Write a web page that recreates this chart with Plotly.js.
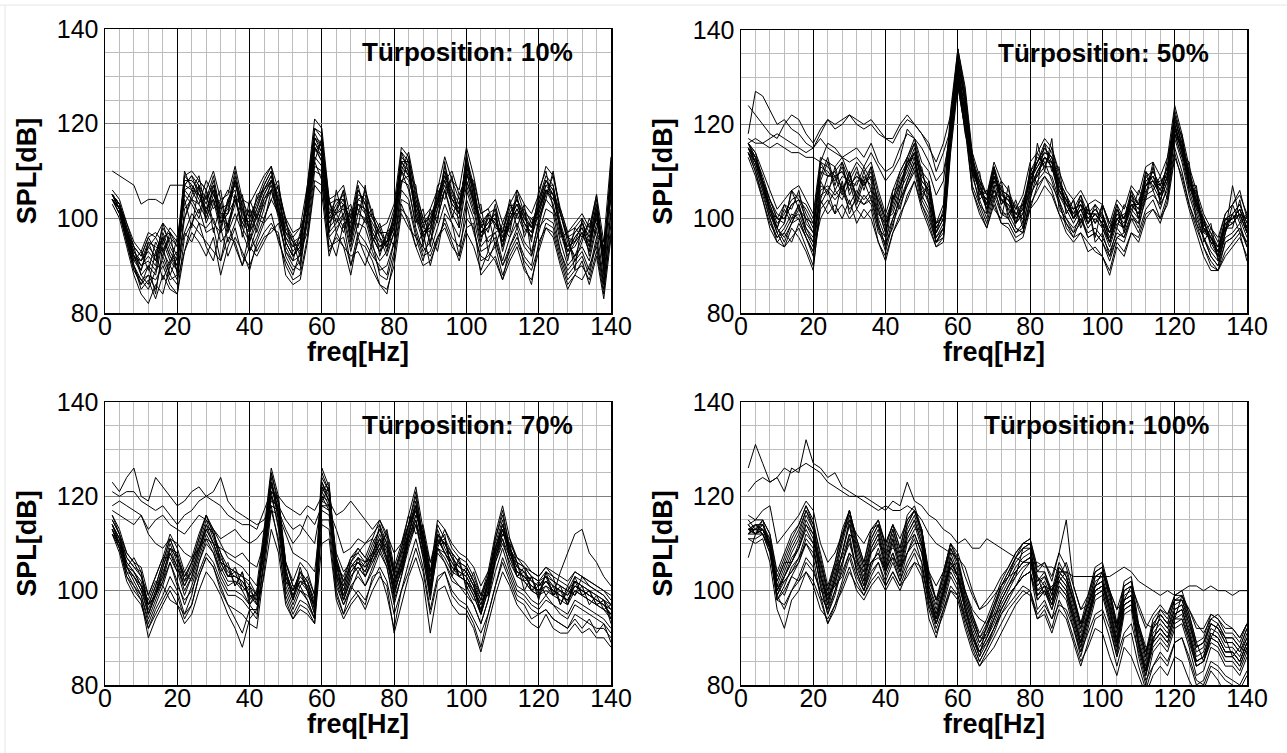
<!DOCTYPE html>
<html>
<head>
<meta charset="utf-8">
<script src="https://cdn.plot.ly/plotly-3.0.1.min.js"></script>
<style>html,body{margin:0;padding:0;background:#fff;}#chart{width:1287px;height:753px;}</style>
</head>
<body>
<div id="chart"></div>
<script>
// Frequency axis (Hz)
const freq = [2,4,6,8,10,12,14,16,18,20,22,24,26,28,30,32,34,36,38,40,42,44,46,48,50,52,54,56,58,60,62,64,66,68,70,72,74,76,78,80,82,84,86,88,90,92,94,96,98,100,102,104,106,108,110,112,114,116,118,120,122,124,126,128,130,132,134,136,138,140];

const panelTitles = ["Türposition: 10%", "Türposition: 50%", "Türposition: 70%", "Türposition: 100%"];
const xTitle = "freq[Hz]";
const yTitle = "SPL[dB]";
const xTicks = [0,20,40,60,80,100,120,140];
const yTicks = [80,100,120,140];

// SPL [dB] spectra, door position 10%
const spl10 = [
[105,103,98,93,90,92,90,97,93,90, 108,108,106,103,108,100,102,109,101,99, 103,107,110,103,96,93,95,105,118,115, 100,103,105,97,105,104,97,94,96,100, 113,111,101,96,99,104,110,105,102,112, 106,97,99,101,94,100,103,99,97,103, 108,106,98,93,96,98,94,102,90,110],
[104,102,97,91,89,94,92,98,95,92, 109,107,104,102,106,99,103,110,102,98, 102,106,109,104,97,94,96,104,119,117, 101,104,104,98,106,103,98,95,95,101, 114,112,102,97,98,103,111,106,101,113, 107,98,100,100,95,101,104,100,98,104, 109,107,99,94,97,99,95,103,91,111],
[105,102,96,92,88,90,88,95,91,89, 107,109,107,104,109,101,101,108,100,100, 104,108,111,102,95,92,94,106,116,114, 99,102,106,96,104,105,96,93,97,99, 112,110,100,95,100,105,109,104,103,111, 105,96,98,102,93,99,102,98,96,102, 107,105,97,92,95,97,93,101,89,109],
[104,101,95,89,86,88,85,92,88,86, 102,104,103,100,104,97,99,104,98,95, 99,103,106,100,93,91,92,100,113,111, 97,99,101,94,101,100,94,91,93,97, 108,107,98,93,95,100,106,101,98,107, 102,94,96,97,91,96,99,95,93,99, 104,102,95,90,92,94,91,98,87,105],
[105,103,97,92,91,95,94,93,96,94, 100,105,108,106,102,104,98,103,105,97, 101,100,104,107,99,95,93,101,114,116, 103,101,98,101,102,99,101,96,92,97, 108,109,104,99,101,100,106,108,104,108, 103,99,95,97,98,96,101,102,99,100, 105,109,101,95,92,96,99,97,94,106],
[104,102,96,90,87,85,89,91,87,88, 97,101,99,98,100,95,97,101,97,93, 96,100,104,101,92,89,91,99,111,110, 96,98,100,93,99,98,93,89,90,95, 106,104,97,92,93,98,103,99,96,104, 100,93,94,96,90,94,98,94,92,97, 102,101,93,89,91,93,89,96,86,102],
[105,103,98,94,92,96,97,95,98,96, 103,106,103,108,105,103,106,104,99,102, 100,105,108,106,100,97,98,102,115,113, 104,99,103,100,101,106,100,97,95,98, 110,114,106,100,97,102,108,110,105,109, 108,101,102,98,97,103,100,101,100,101, 106,104,102,97,98,100,97,104,93,108],
[103,100,94,88,84,82,86,84,90,87, 93,97,95,92,96,88,94,98,92,90, 94,97,99,96,90,87,88,96,108,107, 94,95,96,90,95,94,91,86,84,92, 102,100,94,90,91,95,100,96,94,100, 98,91,92,94,88,92,95,91,89,94, 99,98,92,87,89,90,87,93,84,99],
[106,104,99,95,93,97,96,99,97,95, 109,110,108,106,110,104,105,111,104,103, 106,109,111,106,99,96,98,107,121,119, 104,105,107,100,108,106,101,98,99,103, 115,113,105,100,102,106,113,108,106,115, 109,101,102,104,99,103,106,103,101,105, 111,109,102,97,99,101,98,105,95,113],
[110,109,108,107,103,104,104,103,107,107, 107,106,105,102,104,99,101,104,99,97, 100,104,107,101,95,92,94,103,115,112, 99,101,103,95,103,102,96,93,95,98, 110,108,103,99,100,103,107,103,101,108, 104,99,101,99,96,101,104,100,98,102, 106,104,101,96,95,97,95,100,92,107],
[104,101,95,90,85,87,83,88,85,84, 96,99,97,95,93,91,96,95,90,94, 92,95,98,97,88,86,87,95,107,105, 92,97,94,88,96,92,89,86,85,90, 101,98,96,94,92,96,98,94,92,98, 99,88,90,92,87,94,97,90,86,95, 98,96,90,85,88,91,86,92,83,96],
[105,103,97,93,91,93,91,96,92,90, 106,107,105,101,107,99,101,108,100,98, 102,107,110,102,95,92,95,104,117,116, 101,102,104,97,104,103,97,94,95,100, 112,112,101,97,99,104,110,104,102,112, 106,97,99,101,94,100,103,99,97,103, 108,105,98,93,96,98,94,102,90,110],
[105,102,96,91,93,89,95,92,97,88, 100,104,101,106,97,103,95,99,104,93, 98,104,106,108,94,91,97,103,112,117, 104,97,101,103,96,100,102,92,97,94, 107,113,104,99,95,102,106,100,105,106, 101,103,93,99,97,104,98,103,92,100, 104,110,101,96,91,95,100,96,95,104],
[104,103,97,94,88,86,93,87,91,93, 104,98,107,99,103,106,97,105,98,102, 97,102,108,104,98,95,90,102,116,113, 98,100,97,102,98,107,95,98,93,101, 110,106,99,102,94,106,104,109,98,110, 103,95,101,94,99,97,105,96,100,98, 106,103,96,97,89,100,92,99,93,107],
[105,102,97,92,91,94,96,93,90,96, 105,103,100,105,99,97,104,106,96,104, 100,99,106,101,100,92,94,107,119,118, 97,106,100,99,107,101,95,99,94,99, 111,109,107,94,102,99,112,102,100,114, 104,100,97,103,96,98,106,101,95,106, 110,102,99,91,98,96,97,105,88,112],
[104,101,96,90,86,90,84,94,88,92, 97,95,99,94,91,98,92,96,93,89, 95,99,101,95,91,88,93,97,110,109, 96,92,99,90,97,95,92,90,88,95, 104,103,96,91,97,93,101,99,92,103, 97,92,91,95,90,93,96,92,90,98, 100,99,93,88,90,92,88,95,86,101],
[105,103,98,92,89,95,91,99,94,91, 110,106,109,101,106,98,104,107,103,97, 105,106,108,105,97,96,92,106,117,114, 102,101,106,95,103,102,99,96,94,98, 114,110,102,98,97,107,108,103,101,109, 107,96,100,99,95,101,101,97,99,102, 107,107,97,94,95,99,96,100,92,108],
[104,102,95,89,87,88,87,90,86,84, 93,99,102,97,98,91,99,94,90,97, 93,96,97,99,93,90,89,100,112,108, 93,96,94,92,93,90,95,88,87,93, 103,99,94,97,90,96,99,95,91,97, 94,89,93,91,87,91,94,89,87,93, 98,97,91,86,88,87,90,94,85,97],
[105,103,99,94,92,96,93,96,97,94, 107,109,105,104,107,102,103,108,104,100, 104,106,109,102,97,95,96,104,115,112, 103,104,103,99,106,103,100,97,97,102, 112,109,103,98,101,103,109,106,103,111, 107,98,101,102,97,102,104,101,98,104, 108,106,101,96,97,99,96,103,93,109],
[105,102,97,92,90,91,89,96,92,89, 106,104,107,100,105,101,98,105,102,95, 101,105,108,101,96,94,95,104,117,115, 100,101,102,97,103,101,96,93,95,99, 110,110,100,97,98,104,108,104,101,110, 104,97,98,100,95,99,102,99,96,101, 106,105,98,93,94,97,93,101,90,108]
];

// door position 50%
const spl50 = [
[115,112,108,103,99,101,104,105,101,98, 111,110,108,111,106,110,107,110,103,98, 103,108,111,115,108,106,96,99,120,135, 126,112,107,103,110,105,104,100,102,109, 111,114,113,107,104,101,104,100,102,100, 96,101,99,104,102,108,109,106,110,121, 116,109,104,99,96,93,99,100,102,98],
[116,113,109,104,100,100,103,104,100,97, 112,111,109,110,107,109,108,111,102,97, 104,109,112,116,107,105,97,100,122,134, 124,111,106,104,111,104,103,101,101,110, 112,115,112,106,103,102,103,101,101,99, 97,100,100,103,103,107,110,107,111,122, 115,108,103,98,95,94,98,101,103,99],
[114,110,105,100,96,97,100,101,97,94, 106,107,105,107,103,106,104,106,99,94, 100,104,108,112,105,102,95,97,117,132, 122,109,104,100,106,102,100,97,99,105, 108,110,109,104,100,98,100,97,98,96, 93,97,96,100,99,104,105,103,106,117, 112,105,100,96,92,90,95,96,98,95],
[115,111,106,102,98,103,100,103,98,96, 104,109,110,106,109,105,110,106,104,100, 101,106,113,110,111,103,99,101,118,130, 121,113,105,106,104,108,101,103,98,106, 114,111,115,109,101,104,99,103,96,103, 99,98,103,101,106,104,111,104,108,119, 118,106,106,97,99,91,97,103,99,101],
[113,109,104,98,95,94,96,98,94,90, 102,104,101,103,100,102,100,102,95,92, 97,101,104,108,103,99,94,95,114,128, 119,106,101,98,103,99,98,95,96,102, 104,107,105,101,97,95,97,93,94,92, 89,95,93,97,96,101,102,100,103,113, 109,103,98,94,90,89,92,94,96,92],
[116,114,110,106,102,104,106,107,104,101, 113,112,111,113,109,112,110,112,106,101, 106,110,113,117,110,108,99,103,123,136, 128,114,109,105,112,108,106,102,105,112, 114,117,115,110,106,104,106,103,104,103, 99,104,102,107,105,111,112,109,113,124, 118,111,106,101,98,96,101,103,105,101],
[114,112,107,101,97,99,106,102,100,99, 108,112,106,109,108,107,111,108,100,96, 106,107,110,114,105,107,98,101,119,133, 125,110,108,102,108,106,102,99,104,107, 109,113,111,108,105,100,102,102,99,101, 95,102,98,105,100,109,107,108,109,120, 114,110,102,100,94,92,100,99,101,97],
[115,113,108,102,98,96,99,100,96,93, 105,106,104,106,102,104,103,105,98,93, 99,103,107,111,104,101,95,98,116,131, 123,110,103,101,107,101,101,98,97,104, 110,112,108,103,99,97,101,96,97,95, 92,96,97,101,98,105,106,102,107,118, 113,106,101,96,93,91,96,97,99,94],
[118,127,126,123,120,121,119,118,116,115, 117,115,114,113,112,113,111,114,111,108, 110,113,119,117,112,110,105,108,120,131, 120,110,106,104,108,103,105,99,101,106, 110,113,111,105,103,100,102,99,101,99, 95,100,98,103,101,107,108,105,109,119, 114,107,103,98,95,92,98,99,101,97],
[124,122,120,118,117,120,122,121,118,116, 119,121,119,120,122,120,119,120,118,117, 116,119,121,120,118,115,112,116,122,130, 118,112,108,105,111,106,105,101,103,108, 112,115,113,108,105,102,105,101,103,101, 97,102,100,105,103,109,110,107,111,120, 115,110,105,100,97,94,100,101,103,99],
[117,116,116,117,118,117,116,115,114,115, 118,121,120,121,122,121,120,121,119,117, 117,120,122,120,118,116,110,114,119,128, 119,111,107,103,109,104,104,100,102,108, 111,113,112,106,104,100,103,99,101,99, 95,100,98,103,101,107,108,105,109,118, 115,108,104,98,96,93,99,100,102,98],
[116,117,116,115,116,115,114,114,113,113, 112,116,115,113,114,115,113,116,112,110, 111,115,118,117,115,112,108,110,118,129, 120,111,106,102,109,104,103,99,101,107, 110,113,112,106,103,100,103,99,101,99, 95,100,98,103,101,107,108,105,109,119, 115,108,103,99,96,93,98,99,101,97],
[114,111,106,100,95,97,95,99,96,93, 100,103,106,104,108,102,105,103,97,95, 98,106,109,113,106,104,95,98,118,133, 122,114,104,106,102,100,107,98,97,104, 116,110,117,102,100,97,99,103,95,97, 92,98,96,101,99,110,106,109,104,118, 113,112,99,96,92,90,97,101,97,95],
[116,113,107,101,98,95,99,102,98,95, 108,105,111,106,110,104,109,107,99,94, 105,104,112,113,104,108,98,101,117,129, 124,109,110,101,107,107,100,104,99,111, 107,116,110,111,101,104,98,102,99,103, 98,103,97,106,100,105,112,103,113,120, 114,107,107,95,98,95,101,103,106,100],
[115,112,107,102,97,94,98,96,93,89, 104,101,103,100,104,99,102,100,95,91, 97,100,105,108,102,98,94,96,116,131, 121,106,102,98,104,99,99,96,97,103, 106,109,106,101,99,96,97,95,93,92, 88,94,92,97,95,100,102,99,104,114, 108,102,97,92,89,89,93,95,97,91],
[115,113,108,104,100,99,106,104,103,100, 112,109,110,112,108,111,106,111,105,100, 104,110,113,116,109,107,97,102,121,136, 127,113,108,105,109,106,105,102,103,108, 112,116,114,108,103,102,103,101,101,101, 97,103,100,106,103,110,108,107,111,123, 117,110,103,100,95,94,98,98,104,97],
[116,114,108,102,100,103,102,106,99,97, 109,113,107,112,105,108,108,109,101,99, 102,107,112,114,110,105,99,100,119,134, 125,111,106,104,111,103,105,99,103,110, 113,112,112,106,105,100,105,99,103,98, 95,100,101,102,104,107,109,105,109,122, 117,108,105,98,97,92,100,100,101,100],
[114,110,104,99,96,98,101,100,96,92, 103,106,101,108,101,105,103,104,98,96, 100,104,107,110,103,100,95,96,115,129, 120,107,103,99,105,101,100,97,98,102, 107,109,107,104,98,96,100,96,97,95, 91,96,95,100,97,102,104,100,105,115, 110,103,99,94,91,89,95,96,98,94],
[115,112,107,103,98,102,99,103,97,95, 107,106,109,105,110,103,108,104,102,97, 105,102,108,112,107,103,96,98,118,132, 123,110,106,102,106,104,102,101,100,107, 109,111,111,105,102,99,102,98,100,98, 94,99,98,102,100,106,107,104,108,119, 115,107,102,97,96,92,97,107,100,96],
[116,112,108,104,101,100,103,104,102,99, 110,109,109,110,107,109,107,109,104,99, 104,107,111,114,108,106,97,100,121,135, 126,112,107,103,110,105,104,101,102,109, 112,114,113,107,104,101,104,100,102,100, 97,101,100,104,102,108,109,106,110,121, 116,109,104,99,96,94,99,100,102,98]
];

// door position 70%
const spl70 = [
[114,111,106,104,102,96,100,105,110,106, 101,105,110,115,111,107,104,103,102,100, 98,110,124,116,103,99,103,101,96,123, 120,104,99,104,106,104,108,112,108,100, 106,113,119,110,101,113,109,106,104,103, 100,96,101,110,115,108,104,103,101,100, 102,100,99,98,101,100,99,98,97,95],
[115,112,107,105,103,97,101,106,111,107, 102,106,111,116,112,108,105,104,103,101, 99,111,125,118,104,100,104,102,97,124, 121,105,100,105,107,105,109,113,109,101, 107,114,120,111,102,112,110,107,105,104, 101,97,102,111,116,109,105,104,102,101, 103,101,100,99,102,101,100,99,98,96],
[113,109,104,101,99,93,97,101,106,102, 97,101,106,111,108,103,100,100,99,97, 95,107,121,113,100,96,100,98,94,120, 117,102,97,101,103,101,105,109,105,97, 103,110,115,107,98,109,106,103,101,100, 97,93,98,106,111,105,101,100,98,97, 99,97,96,95,98,97,96,95,94,92],
[112,110,104,103,101,98,102,101,98,97, 95,99,106,110,108,104,101,102,100,97, 99,108,120,117,106,101,100,99,97,119, 122,106,98,102,107,103,106,109,110,103, 104,111,116,112,104,110,111,104,106,101, 98,98,99,107,112,110,103,105,100,102, 99,101,97,100,99,101,97,99,96,97],
[112,108,102,99,97,92,95,98,101,99, 94,97,103,107,105,100,97,96,95,93, 92,104,117,111,98,94,97,96,93,115, 115,100,95,98,100,98,102,105,102,95, 100,106,111,105,96,103,104,100,98,97, 94,91,95,101,107,103,99,98,96,95, 96,94,93,92,95,94,93,92,92,90],
[116,113,108,106,105,99,103,107,112,109, 104,107,112,116,113,110,107,106,105,103, 101,113,126,120,106,102,106,104,99,126, 122,107,102,107,109,107,111,115,111,104, 109,116,122,113,104,115,113,109,107,106, 103,99,104,112,118,111,107,106,104,103, 105,103,102,101,104,103,102,101,100,98],
[114,111,105,107,104,95,99,103,109,108, 103,106,109,113,113,106,105,101,104,98, 100,109,122,119,105,98,105,100,95,121, 123,103,101,106,104,106,107,114,106,102, 108,112,118,109,99,111,108,108,103,105, 102,95,103,108,113,107,106,102,103,99, 104,99,101,97,103,99,100,97,98,94],
[113,110,105,103,100,95,99,104,108,104, 99,103,108,113,110,105,102,102,101,99, 97,109,123,115,102,98,102,100,95,122, 119,103,98,103,105,103,107,110,107,99, 105,112,117,109,100,111,108,105,103,102, 99,95,100,108,113,107,103,102,100,99, 101,99,98,97,100,99,98,97,96,94],
[123,121,124,126,120,119,124,122,120,118, 119,121,122,120,121,124,119,117,116,115, 114,115,118,117,113,110,112,116,114,118, 117,113,108,109,111,110,112,114,110,104, 108,114,117,111,104,110,110,107,105,104, 101,98,103,109,113,108,105,104,102,101, 102,101,100,99,101,100,99,98,97,96],
[121,120,121,121,119,118,117,118,116,114, 116,117,119,120,119,118,116,115,114,114, 113,117,121,120,118,117,116,118,117,120, 119,116,117,119,117,115,113,115,112,108, 110,114,118,112,106,112,110,108,106,105, 102,99,103,109,114,109,106,105,103,102, 103,102,101,100,102,101,100,99,98,97],
[117,116,115,114,116,113,115,116,114,113, 112,114,116,115,113,111,112,113,111,110, 111,113,119,118,115,113,114,112,110,119, 118,108,104,106,108,106,108,111,107,102, 106,111,115,109,103,109,108,105,104,103, 100,97,101,107,111,107,104,103,101,100, 101,100,99,98,100,99,98,97,96,95],
[118,119,118,117,116,112,110,109,111,110, 108,107,109,111,110,109,108,107,108,106, 105,110,117,116,112,108,107,106,104,117, 116,106,102,105,106,105,107,110,106,100, 104,110,114,108,100,109,107,104,103,102, 99,95,100,106,110,106,103,102,100,99, 100,99,104,108,112,113,108,106,103,101],
[113,109,103,100,98,92,96,99,103,100, 95,97,103,107,105,101,97,94,91,96, 94,106,118,110,99,95,98,97,94,114, 113,99,95,101,99,97,103,104,99,92, 100,104,109,104,95,102,104,99,97,96, 93,88,95,101,106,102,98,97,94,95, 96,94,93,92,94,92,94,91,93,89],
[115,112,108,106,103,99,103,107,107,104, 104,102,107,112,109,104,106,101,104,97, 100,108,121,119,106,101,101,103,99,121, 118,107,101,106,109,107,106,110,112,104, 104,111,116,113,104,110,112,103,107,100, 104,99,99,107,112,111,106,100,103,98, 104,103,97,101,99,103,101,100,99,97],
[114,110,105,102,99,94,98,102,106,101, 98,100,104,108,106,102,99,99,98,96, 96,106,120,114,101,97,101,98,94,118, 118,101,97,100,104,101,104,108,105,98, 103,109,114,107,99,108,106,102,101,99, 97,93,98,104,109,104,100,99,97,96, 98,97,95,94,97,96,95,94,93,91],
[116,112,105,103,100,97,99,102,108,105, 100,103,108,113,110,106,103,104,100,101, 97,111,123,117,104,98,104,100,97,122, 121,105,103,107,108,110,111,108,113,105, 110,116,112,114,106,109,113,110,108,107, 105,101,104,108,112,110,107,105,104,103, 105,104,103,102,104,103,102,101,100,99],
[113,110,105,104,101,95,100,103,109,107, 102,104,109,114,112,108,103,105,101,99, 99,109,123,117,102,100,102,102,97,123, 119,103,98,103,105,103,107,111,109,101, 106,112,118,111,100,112,110,107,103,104, 101,95,102,109,114,109,103,104,100,101, 103,99,100,97,102,99,100,97,98,93],
[112,109,103,101,98,90,94,97,100,97, 93,95,100,104,102,99,95,92,88,94, 96,103,113,108,97,94,96,95,93,110, 111,98,94,97,99,96,100,103,101,91, 97,103,107,102,91,100,101,97,95,95, 92,87,93,99,104,101,97,95,93,92, 95,92,91,91,93,91,92,90,90,88],
[114,111,107,105,104,97,101,106,111,107, 103,106,111,116,112,106,105,104,103,102, 99,112,125,119,104,100,104,102,98,125, 121,106,100,105,107,106,110,113,110,103, 109,114,121,111,103,114,111,108,106,105, 102,98,103,111,117,109,106,105,103,102, 104,102,101,100,103,102,101,100,99,97],
[114,110,106,104,101,97,99,105,109,105, 101,104,109,114,110,106,103,103,102,99, 98,109,123,115,103,99,102,101,96,122, 119,104,99,104,106,104,108,111,107,99, 105,112,118,109,101,112,108,106,103,102, 100,96,101,109,114,108,104,103,101,100, 102,100,99,98,101,100,99,98,97,95]
];

// door position 100%
const spl100 = [
[113,113,114,110,100,104,108,111,116,113, 104,97,103,110,116,108,103,110,113,106, 112,106,113,116,111,100,95,101,108,104, 97,92,88,91,95,99,102,105,107,108, 100,102,98,104,102,96,90,96,102,103, 97,90,99,100,90,84,91,93,91,96, 97,92,86,87,92,91,88,88,86,90],
[112,114,113,111,101,105,109,112,117,114, 105,98,104,111,117,109,104,111,114,107, 113,107,114,117,112,101,96,102,109,105, 98,93,89,92,96,100,103,106,108,109, 101,103,99,105,103,97,91,97,103,104, 98,91,100,101,91,85,92,94,92,97, 98,93,87,88,93,92,89,89,87,91],
[112,112,112,108,98,100,103,106,111,109, 101,95,100,106,111,104,100,106,108,103, 107,102,108,111,106,97,93,98,104,101, 94,89,85,88,91,95,98,101,103,104, 96,98,94,100,98,92,86,92,98,99, 93,86,95,96,86,80,87,89,87,92, 93,88,82,83,88,87,84,84,82,86],
[114,112,115,109,102,106,106,109,113,110, 106,100,105,107,112,110,105,108,110,108, 109,108,110,113,113,103,98,99,105,106, 100,95,90,90,93,97,100,103,109,110, 103,99,101,102,104,99,93,94,100,101, 100,93,97,98,93,88,89,95,93,94, 99,95,89,85,90,93,90,86,88,87],
[111,110,111,106,96,92,98,100,104,102, 98,93,96,101,105,100,98,101,103,100, 103,100,104,106,103,96,91,95,100,98, 92,87,84,86,88,91,94,97,99,100, 94,95,91,96,94,89,84,89,94,95, 90,84,90,91,84,79,84,86,84,89, 90,85,80,81,85,84,82,81,80,83],
[114,115,115,112,103,107,111,114,118,115, 107,100,106,113,117,111,106,113,115,109, 114,109,115,117,113,103,98,104,110,107, 100,95,91,94,98,102,105,108,110,111, 104,106,102,108,105,99,93,99,105,106, 100,93,102,103,93,87,94,96,94,99, 100,95,89,90,95,94,91,91,89,93],
[113,112,113,109,99,103,106,109,114,111, 103,99,101,108,114,106,101,108,111,104, 110,104,111,114,109,99,94,99,106,103, 96,90,86,89,92,96,99,101,103,104, 98,100,96,101,99,93,87,93,99,100, 94,87,96,97,88,82,88,90,88,93, 94,89,84,85,89,88,85,85,83,87],
[113,114,113,110,101,102,104,107,110,108, 102,96,102,106,110,105,101,106,108,104, 108,104,108,112,108,99,94,100,106,103, 97,91,87,90,94,98,101,103,105,106, 99,101,97,102,100,95,89,95,100,101, 96,89,97,98,89,83,90,92,90,95, 96,91,85,86,91,90,87,87,85,89],
[126,131,127,123,124,121,126,125,132,127, 126,124,125,122,121,120,120,119,118,117, 119,118,123,119,118,116,115,113,112,110, 111,109,109,111,110,109,108,107,106,106, 106,105,105,104,104,103,103,103,103,103, 103,104,105,104,102,101,100,99,100,99, 100,101,101,100,101,100,100,99,100,100],
[121,123,124,123,124,126,125,126,127,126, 125,123,122,121,120,120,119,118,117,118, 117,117,118,117,115,112,110,109,108,107, 105,100,96,97,99,101,103,104,106,107, 102,103,100,104,102,98,93,97,101,102, 97,92,98,99,92,87,92,94,92,96, 97,93,88,89,93,92,89,89,87,90],
[116,115,117,118,110,112,114,116,119,117, 110,106,108,112,115,112,110,113,114,110, 114,111,115,117,113,104,101,104,110,108, 103,99,96,98,100,103,105,108,110,111, 105,106,103,108,115,101,96,99,104,105, 100,96,101,102,96,92,95,97,95,99, 99,96,92,92,95,94,92,92,90,93],
[107,112,113,109,98,97,100,103,107,105, 99,93,97,102,107,102,99,103,106,101, 104,101,105,108,104,94,90,96,101,99, 93,88,84,87,90,93,96,98,100,99, 94,96,92,98,95,90,85,88,92,91, 86,82,88,86,82,78,82,84,82,86, 85,81,78,79,83,81,78,79,77,80],
[112,114,112,109,98,101,105,107,112,110, 101,95,99,105,112,104,100,105,109,104, 108,103,110,112,108,99,93,99,105,102, 96,91,86,93,97,101,104,107,110,110, 98,100,97,102,100,94,88,94,100,101, 95,88,97,98,88,82,89,91,89,94, 95,90,84,85,90,89,86,86,84,88],
[113,113,113,110,101,99,103,102,106,104, 100,99,101,103,108,106,104,106,107,105, 107,105,108,110,110,104,98,101,105,103, 100,96,94,93,95,96,99,101,104,106, 103,101,100,103,106,101,96,97,101,104, 100,96,98,101,97,93,92,96,95,98, 98,96,93,91,94,95,93,92,90,93],
[114,112,114,111,102,106,110,113,117,113, 106,99,105,111,117,110,105,111,114,108, 113,108,114,117,112,101,97,103,110,106, 99,94,90,92,97,101,104,107,109,109, 102,104,99,105,103,98,92,98,104,105, 99,92,101,102,92,86,93,95,93,98, 99,94,88,89,94,93,90,90,88,92],
[111,111,112,108,99,96,100,102,104,101, 96,94,97,100,104,101,99,102,104,101, 104,101,103,106,105,97,92,96,100,99, 94,90,87,89,92,95,97,99,101,100, 95,97,94,97,96,92,87,91,95,96, 92,86,91,93,87,81,84,87,85,89, 90,86,81,80,84,83,81,80,79,82],
[113,114,114,110,100,103,107,109,114,112, 103,98,102,108,115,107,102,109,112,105, 111,105,112,115,110,100,95,100,107,103, 98,93,89,91,94,98,101,104,106,107, 100,101,98,103,101,95,89,95,101,102, 96,89,98,99,89,83,90,92,90,95, 96,91,85,86,91,90,87,87,85,89],
[112,113,112,109,99,102,104,106,110,107, 99,96,100,104,108,103,100,104,106,102, 106,102,106,109,106,98,93,97,103,100, 95,89,85,88,92,96,99,101,103,104, 99,100,96,101,99,94,88,94,99,100, 94,88,96,97,89,83,89,91,89,94, 94,90,84,85,90,89,86,86,84,88],
[115,113,115,112,104,108,112,114,118,114, 108,101,106,112,117,111,106,112,115,110, 114,109,116,118,113,102,98,103,109,106, 99,94,90,93,96,101,103,107,109,110, 104,104,100,106,103,98,92,97,103,104, 99,92,100,101,92,86,93,95,93,98, 98,94,88,89,93,92,90,90,88,92],
[113,112,113,110,100,103,106,110,115,112, 103,97,103,108,114,107,102,109,112,105, 111,105,112,115,110,99,94,100,107,103, 96,91,87,90,94,98,101,104,106,107, 99,101,97,103,101,95,89,95,101,102, 96,89,98,99,89,83,90,92,90,95, 96,91,85,86,91,90,87,87,85,89]
];

const panels = [spl10, spl50, spl70, spl100];

const W = 1287, H = 753;
// plot-area boxes in pixels [left, right, top, bottom]
const boxes = [[105,611,29,313],[741,1247,30,313],[105,611,402,685],[741,1247,402,685]];

const FONT = "Liberation Sans, Arial, Helvetica, sans-serif";
const traces = [];
const layout = {
  width: W, height: H,
  margin: {l:0, r:0, t:0, b:0},
  paper_bgcolor: "#fff", plot_bgcolor: "#fff",
  showlegend: false,
  font: {family: FONT, color: "#000"},
  annotations: [],
  shapes: [
    {type:"line", xref:"paper", yref:"paper", x0:0, x1:1, y0:1-5/H, y1:1-5/H, line:{color:"#e6e6e6", width:1}},
    {type:"line", xref:"paper", yref:"paper", x0:5/W, x1:5/W, y0:0, y1:1-5/H, line:{color:"#e6e6e6", width:1}}
  ]
};

panels.forEach((lines, i) => {
  const n = i + 1;
  const sfx = (n === 1 ? "" : String(n));
  const xa = "x" + sfx, ya = "y" + sfx;
  lines.forEach(arr => {
    traces.push({x: freq, y: arr, type: "scatter", mode: "lines", xaxis: xa, yaxis: ya,
      line: {color: "#000", width: 1}, hoverinfo: "skip", showlegend: false});
  });
  const b = boxes[i];
  layout["xaxis" + sfx] = {
    domain: [b[0]/W, b[1]/W], anchor: ya, range: [0, 140],
    tickmode: "array", tickvals: xTicks, ticktext: xTicks.map(String),
    showgrid: true, gridcolor: "#000", gridwidth: 1,
    minor: {dtick: 4, tick0: 0, showgrid: true, gridcolor: "#bdbdbd", gridwidth: 1, ticks: ""},
    showline: true, mirror: true, linecolor: "#000", linewidth: 1.5,
    ticks: "", zeroline: false, ticklabelstandoff: -10,
    tickfont: {size: 25, family: FONT, color: "#000"}
  };
  layout["yaxis" + sfx] = {
    domain: [1 - b[3]/H, 1 - b[2]/H], anchor: xa, range: [80, 140],
    tickmode: "array", tickvals: yTicks, ticktext: yTicks.map(String),
    showgrid: true, gridcolor: "#7f7f7f", gridwidth: 1.5,
    minor: {dtick: 5, tick0: 80, showgrid: true, gridcolor: "#bdbdbd", gridwidth: 1, ticks: ""},
    showline: true, mirror: true, linecolor: "#000", linewidth: 1.5,
    ticks: "", zeroline: false,
    tickfont: {size: 25, family: FONT, color: "#000"},
    title: {text: yTitle, standoff: 12, font: {size: 27, family: FONT, color: "#000", weight: "bold"}}
  };
  layout.annotations.push({
    text: panelTitles[i], xref: xa + " domain", yref: ya + " domain", x: 1, y: 1,
    xanchor: "right", yanchor: "middle", xshift: -36, yshift: -23, showarrow: false,
    font: {size: 26, family: FONT, color: "#000", weight: "bold"}
  });
  layout.annotations.push({
    text: xTitle, xref: xa + " domain", yref: ya + " domain", x: 0.5, y: 0,
    xanchor: "center", yanchor: "middle", yshift: -39, showarrow: false,
    font: {size: 27, family: FONT, color: "#000", weight: "bold"}
  });
});

Plotly.newPlot("chart", traces, layout, {displayModeBar: false, staticPlot: true});
</script>
</body>
</html>
